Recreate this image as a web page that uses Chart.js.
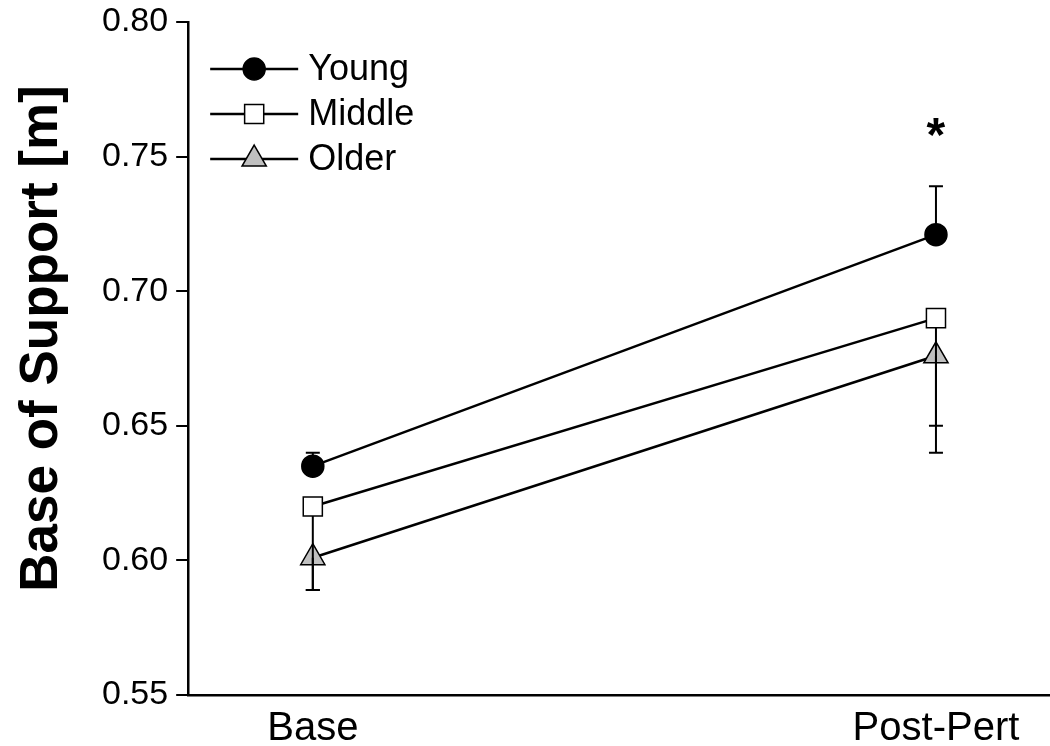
<!DOCTYPE html>
<html>
<head>
<meta charset="utf-8">
<script src="https://cdn.jsdelivr.net/npm/chart.js@4.4.1/dist/chart.umd.min.js"></script>
<style>
  html, body { margin: 0; padding: 0; background: #fff; }
  #wrap { width: 1050px; height: 746px; }
</style>
</head>
<body>
<div id="wrap"><canvas id="bosChart"></canvas></div>
<script>
// datos
var fases = ['Base', 'Post-Pert'];
var young = [0.635, 0.721];
var middle = [0.620, 0.690];
var older = [0.601, 0.676];
// barras de error (solo una direccion, como en la figura)
var youngErr = [0.005, 0.018];   // hacia arriba
var middleErr = [-0.031, -0.040]; // hacia abajo
var olderErr = [-0.012, -0.036];  // hacia abajo
var yTicks = [0.55, 0.60, 0.65, 0.70, 0.75, 0.80];
var tituloY = 'Base of Support [m]';
var asterisco = { x: 1, y: 0.759, text: '*' };

var FUENTE = '"Liberation Sans", Arial, sans-serif';

function puntos(vals) {
    return vals.map(function(v, i) { return { x: i, y: v }; });
}

// barras de error
var errorBars = {
    id: 'errorBars',
    afterDatasetsDraw: function(chart) {
        var ctx = chart.ctx;
        var ys = chart.scales.y, xs = chart.scales.x;
        ctx.save();
        ctx.strokeStyle = '#000';
        ctx.lineWidth = 2;
        chart.data.datasets.forEach(function(ds) {
            ds.data.forEach(function(p, i) {
                var e = ds.err[i];
                var px = xs.getPixelForValue(p.x);
                var y0 = ys.getPixelForValue(p.y);
                var y1 = ys.getPixelForValue(p.y + e);
                var dir = e > 0 ? -1 : 1;
                var start = y0 + dir * ds.errOffset;
                ctx.beginPath();
                ctx.moveTo(px, start);
                ctx.lineTo(px, y1);
                ctx.moveTo(px - 7, y1);
                ctx.lineTo(px + 7, y1);
                ctx.stroke();
            });
        });
        ctx.restore();
    }
};

// leyenda dentro del grafico, titulo del eje y asterisco
var leyenda = {
    id: 'leyenda',
    afterDraw: function(chart) {
        var ctx = chart.ctx;
        var a = chart.chartArea;
        ctx.save();
        chart.data.datasets.forEach(function(ds, i) {
            var y = a.top + 47 + i * 45;
            var x0 = a.left + 22, x1 = a.left + 110;
            ctx.strokeStyle = '#000';
            ctx.lineWidth = 2.5;
            ctx.beginPath();
            ctx.moveTo(x0, y);
            ctx.lineTo(x1, y);
            ctx.stroke();
            ctx.fillStyle = ds.pointBackgroundColor;
            ctx.lineWidth = 1.5;
            Chart.helpers.drawPoint(ctx, {
                pointStyle: ds.pointStyle,
                radius: ds.pointRadius,
                borderWidth: 1.5,
                rotation: 0
            }, (x0 + x1) / 2, y);
            ctx.fillStyle = '#000';
            ctx.font = '36px ' + FUENTE;
            ctx.textAlign = 'left';
            ctx.textBaseline = 'middle';
            ctx.fillText(ds.label, x1 + 10, y + 1);
        });

        // asterisco de significancia
        var px = chart.scales.x.getPixelForValue(asterisco.x);
        var py = chart.scales.y.getPixelForValue(asterisco.y);
        ctx.font = 'bold 48px ' + FUENTE;
        ctx.textAlign = 'center';
        ctx.textBaseline = 'middle';
        ctx.fillText(asterisco.text, px, py + 5);

        // titulo del eje y (un poco por encima del centro, como en la figura)
        ctx.translate(a.left - 148, (a.top + a.bottom) / 2 - 20);
        ctx.rotate(-Math.PI / 2);
        ctx.font = 'bold 53px ' + FUENTE;
        ctx.textAlign = 'center';
        ctx.textBaseline = 'middle';
        ctx.fillText(tituloY, 0, 2);
        ctx.restore();
    }
};

function serie(label, vals, err, estilo, relleno, radio, offset) {
    return {
        label: label,
        data: puntos(vals),
        err: err,
        errOffset: offset,
        borderColor: '#000',
        borderWidth: 2.5,
        pointStyle: estilo,
        pointRadius: radio,
        pointHoverRadius: radio,
        pointBackgroundColor: relleno,
        pointBorderColor: '#000',
        pointBorderWidth: 1.5,
        fill: false,
        tension: 0
    };
}

var bosChart = new Chart(document.getElementById('bosChart').getContext('2d'), {
    type: 'line',
    data: {
        datasets: [
            serie('Young', young, youngErr, 'circle', '#000', 11, 11),
            serie('Middle', middle, middleErr, 'rect', '#fff', 13.5, 9.5),
            serie('Older', older, olderErr, 'triangle', '#c0c0c0', 14, 0)
        ]
    },
    options: {
        responsive: true,
        maintainAspectRatio: false,
        animation: false,
        layout: { autoPadding: false, padding: { top: 0, right: 0, left: 94, bottom: 0 } },
        plugins: {
            legend: { display: false },
            tooltip: { enabled: false }
        },
        scales: {
            x: {
                type: 'linear',
                min: -0.2,
                max: 1.183,
                afterBuildTicks: function(axis) {
                    axis.ticks = fases.map(function(f, i) { return { value: i }; });
                },
                afterFit: function(axis) {
                    axis.paddingRight = 0;
                    axis.paddingLeft = 0;
                    axis.height = 51;
                },
                ticks: {
                    callback: function(v) { return fases[v]; },
                    color: '#000',
                    font: { family: FUENTE, size: 40, lineHeight: 1.1 },
                    padding: 12,
                    maxRotation: 0,
                    autoSkip: false
                },
                grid: { drawOnChartArea: false, drawTicks: false },
                border: { color: '#000', width: 2.5 }
            },
            y: {
                min: 0.55,
                max: 0.80,
                afterBuildTicks: function(axis) {
                    axis.ticks = yTicks.map(function(v) { return { value: v }; });
                },
                afterFit: function(axis) {
                    axis.paddingTop = 22;
                    axis.paddingBottom = 0;
                },
                ticks: {
                    callback: function(v) { return v.toFixed(2); },
                    color: '#000',
                    font: { family: FUENTE, size: 34 },
                    padding: 8
                },
                grid: { drawOnChartArea: false, drawTicks: true, tickLength: 12, color: '#000', lineWidth: 2 },
                border: { color: '#000', width: 2.5 }
            }
        }
    },
    plugins: [errorBars, leyenda]
});
</script>
</body>
</html>
